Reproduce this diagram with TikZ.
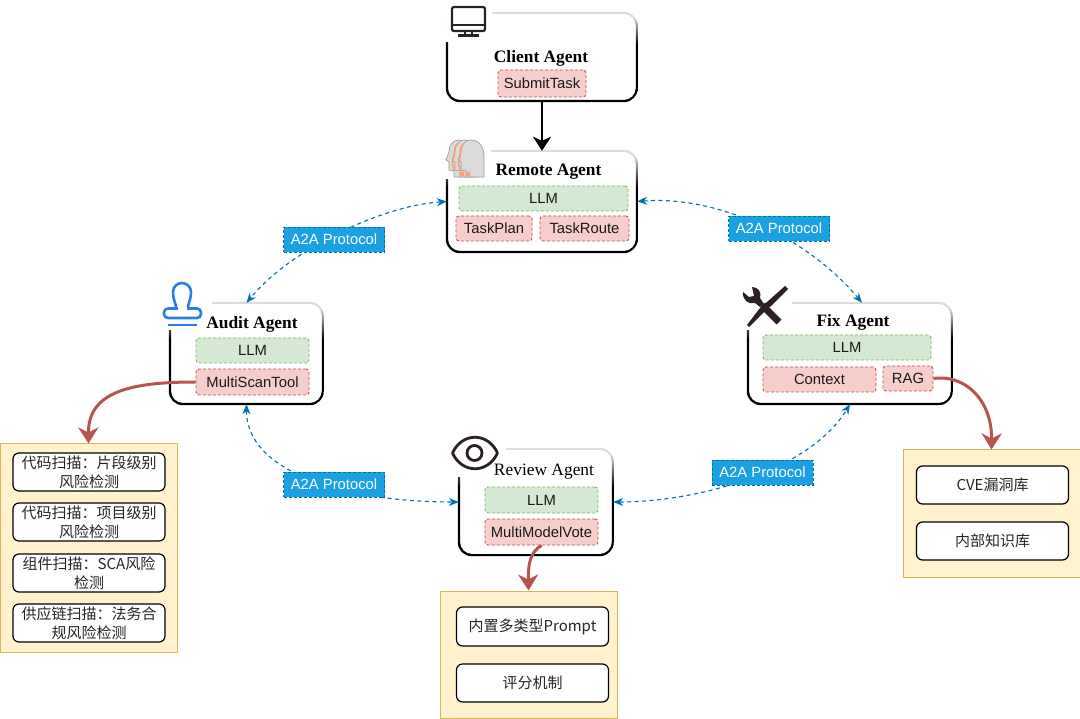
\documentclass[tikz,border=0pt]{standalone}
\usepackage{fontspec}
\setmainfont{Liberation Sans}
\newfontfamily\serifname{Liberation Serif}
\newfontfamily\cjk{Noto Sans CJK SC}
\usetikzlibrary{arrows.meta,calc}
\definecolor{fadegray}{HTML}{DCDCDC}
\definecolor{gbd}{HTML}{82B366}
\definecolor{gfl}{HTML}{D5E8D4}
\definecolor{rbd}{HTML}{B85450}
\definecolor{rfl}{HTML}{F8CECC}
\definecolor{bfl}{HTML}{1BA1E2}
\definecolor{bbd}{HTML}{006EAF}
\definecolor{yfl}{HTML}{FFF2CC}
\definecolor{ybd}{HTML}{D6B656}
\definecolor{icondark}{HTML}{2B2024}
\definecolor{stampblue}{HTML}{2B7DE9}
\pgfdeclareverticalshading{agentfade}{100bp}{color(0bp)=(black); color(57bp)=(black); color(72bp)=(fadegray); color(100bp)=(fadegray)}
\newcommand{\agentframe}[3]{% name, patch x, patch y (absolute)
  \shade[even odd rule,shading=agentfade,rounded corners=14pt]
    ($(#1.south west)+(-1,1)$) rectangle ($(#1.north east)+(.6,-1)$)
    [rounded corners=12pt]
    ($(#1.south west)+(1.2,-1.2)$) rectangle ($(#1.north east)+(-1.4,1.2)$);
  \fill[white] ($(#1.north west)+(-4,-4)$) rectangle (#2,#3);
}
\tikzset{
  x=1pt,y=-1pt,
  agentbox/.style={inner sep=0pt,draw=none,rectangle},
  lbl/.style={font=\fontsize{14.8}{17}\selectfont,inner sep=0pt,rectangle,rounded corners=3pt,dash pattern=on 3pt off 2pt,line width=0.9pt,text=black!90},
  llm/.style={lbl,draw=gbd,fill=gfl},
  tool/.style={lbl,draw=rbd,fill=rfl},
  title/.style={font=\fontsize{17.4}{20}\selectfont\serifname\bfseries,inner sep=0pt},
  a2a/.style={font=\fontsize{14.8}{17}\selectfont,text=white,fill=bfl,draw=bbd,dash pattern=on 3pt off 2pt,line width=0.9pt,minimum width=101pt,minimum height=25pt,inner sep=0pt},
  panel/.style={fill=yfl,draw=ybd,line width=1pt,inner sep=0pt},
  item/.style={font=\fontsize{15}{19}\selectfont\cjk,align=center,fill=white,draw=black,line width=1.2pt,rounded corners=6pt,inner sep=0pt,text=black!85,minimum width=152pt},
  bluelink/.style={bbd,line width=1.1pt,dash pattern=on 4pt off 3.5pt,{Stealth[length=10pt,width=8pt]}-{Stealth[length=10pt,width=8pt]}},
  redlink/.style={rbd,line width=3pt,-{Stealth[length=16pt,width=20pt,inset=5pt]}},
  blacklink/.style={black,line width=2.5pt,-{Stealth[length=14pt,width=18pt,inset=4pt]}},
}
\begin{document}
\begin{tikzpicture}
\useasboundingbox (0,0) rectangle (1080,719);
% agent bodies
\node[agentbox,minimum width=190pt,minimum height=88pt] (client) at (542,57) {};
\node[agentbox,minimum width=190pt,minimum height=101pt] (remote) at (542,201.5) {};
\node[agentbox,minimum width=153pt,minimum height=101pt] (audit) at (246.5,353.5) {};
\node[agentbox,minimum width=204pt,minimum height=101pt] (fix) at (850,353.5) {};
\node[agentbox,minimum width=154pt,minimum height=106pt] (review) at (536,502) {};
\agentframe{client}{492}{42}
\agentframe{remote}{491}{179}
\agentframe{audit}{212}{330}
\agentframe{fix}{792}{330}
\agentframe{review}{506}{477}
% titles
\node[title] (tclient) at (541,58) {Client Agent};
\node[title] (tremote) at (548.5,171.5) {Remote Agent};
\node[title] (taudit) at (252,324) {Audit Agent};
\node[title] (tfix) at (853,322) {Fix Agent};
\node[title,font=\fontsize{17.4}{20}\selectfont\serifname] (treview) at (544,471.5) {Review Agent};
% inner labels
\node[tool,minimum width=88pt,minimum height=27pt] (submit) at (542,83.5) {SubmitTask};
\node[llm,minimum width=169pt,minimum height=25pt] (rllm) at (543.5,198.5) {LLM};
\node[tool,minimum width=76pt,minimum height=25pt] (plan) at (494,228.5) {TaskPlan};
\node[tool,minimum width=89pt,minimum height=25pt] (route) at (584.5,228.5) {TaskRoute};
\node[llm,minimum width=113pt,minimum height=25pt] (allm) at (252.5,350.5) {LLM};
\node[tool,minimum width=113pt,minimum height=26pt] (scan) at (252.5,382) {MultiScanTool};
\node[llm,minimum width=168pt,minimum height=25pt] (fllm) at (847,347.5) {LLM};
\node[tool,minimum width=113pt,minimum height=25pt] (context) at (819.5,379.5) {Context};
\node[tool,minimum width=50pt,minimum height=25pt] (rag) at (908,378.5) {RAG};
\node[llm,minimum width=113pt,minimum height=26pt] (vllm) at (541.5,500) {LLM};
\node[tool,minimum width=113pt,minimum height=26pt] (vote) at (541.5,532) {MultiModelVote};
% panels
\node[panel,minimum width=177pt,minimum height=208pt] (lpanel) at (88.5,548) {};
\node[panel,minimum width=177pt,minimum height=127pt] (mpanel) at (528.5,654.5) {};
\node[panel,minimum width=177pt,minimum height=127pt] (rpanel) at (991.5,513.5) {};
\node[item,minimum height=38pt] (l1) at (89,472) {代码扫描：片段级别\\风险检测};
\node[item,minimum height=38pt] (l2) at (89,522) {代码扫描：项目级别\\风险检测};
\node[item,minimum height=38pt] (l3) at (89,573) {组件扫描：SCA风险\\检测};
\node[item,minimum height=38pt] (l4) at (89,623) {供应链扫描：法务合\\规风险检测};
\node[item,minimum height=39pt] (m1) at (532.5,626.5) {内置多类型Prompt};
\node[item,minimum height=38pt] (m2) at (532.5,683) {评分机制};
\node[item,minimum height=38pt] (r1) at (992.5,485) {CVE漏洞库};
\node[item,minimum height=38pt] (r2) at (992.5,541) {内部知识库};
% connectors
\draw[blacklink] (client.south) -- (remote.north);
\draw[bluelink] (remote.west) .. controls (380,206) and (290,250) .. (audit.north);
\draw[bluelink] (audit.south) .. controls (246,470) and (340,502) .. (review.west);
\draw[bluelink] (review.east) .. controls (700,502) and (810,470) .. (fix.south);
\draw[bluelink] (remote.east) .. controls (720,195) and (810,240) .. ([xshift=12pt]fix.north);
\node[a2a] (a1) at (334,239.5) {A2A Protocol};
\node[a2a] (a2) at (779,228.5) {A2A Protocol};
\node[a2a] (a3) at (334,484.5) {A2A Protocol};
\node[a2a] (a4) at (762.5,472.5) {A2A Protocol};
\draw[redlink] (scan.west) .. controls (130,382) and (88,392) .. (lpanel.north);
\draw[redlink] (rag.east) .. controls (965,374) and (992,400) .. (rpanel.north);
\draw[redlink] (vote.south) .. controls (530,552) and (528,565) .. (mpanel.north);
% monitor icon
\draw[icondark,line width=2.2pt,rounded corners=2pt] (452,7) rectangle (485,31);
\draw[icondark,line width=2.2pt] (452,25) -- (485,25);
\draw[icondark,line width=2.2pt] (465,31) -- (465,35) (472,31) -- (472,35);
\draw[icondark,line width=2.2pt] (458,35.5) -- (479,35.5);
% heads icon
\foreach \s in {-12,-6,0}{
  \begin{scope}[shift={(\s,0)}]
    \filldraw[fill=gray!28,draw=gray!75,line width=.7pt] (466,177) -- (484,177) -- (484,156) .. controls (484,146) and (478,140) .. (471,140) .. controls (464,140) and (461,146) .. (461,152) -- (458,160) -- (461,162) -- (461,170) -- (466,171) -- cycle;
  \end{scope}
}
\foreach \s in {-6,0}{
  \draw[orange!60!red!55,line width=1.6pt,shift={(\s,0)}] (464,143) .. controls (458,149) and (462,154) .. (459,160) .. controls (457,164) and (460,166) .. (460,171);
}
\fill[orange!60!red!55] (460,172) rectangle (464,176) (466,172) rectangle (470,176);
% stamp icon
\draw[stampblue,line width=2.6pt,line join=round] (176,308) .. controls (176,303) and (173,300) .. (173,292) arc[start angle=180,end angle=360,radius=9] .. controls (191,300) and (188,303) .. (188,308);
\draw[stampblue,line width=2.6pt,rounded corners=4pt] (164,318) rectangle (201,308.5);
\fill[white] (177.5,307) rectangle (186.5,310);
\draw[stampblue,line width=2.6pt] (168,325) -- (197,325);
% tools icon
\fill[icondark] (785,286) -- (788,289) -- (771,306) -- (767,309) -- (749,327) -- (747,325) -- (763,304) -- (767,302) -- cycle;
\fill[icondark] (743,292) -- (749,297) -- (754,296) -- (752,287) .. controls (758,287) and (762,292) .. (760,298) -- (764,304) -- (760,307) -- (755,303) .. controls (749,305) and (742,300) .. cycle;
\draw[icondark,line width=7pt] (766,309) -- (779,322);
% eye icon
\draw[icondark,line width=2.8pt,line join=round] (452.5,453) .. controls (462,432) and (488,432) .. (497.5,453) .. controls (488,474) and (462,474) .. cycle;
\draw[icondark,line width=2.8pt] (474.5,453) circle[radius=7.5];
\end{tikzpicture}
\end{document}
